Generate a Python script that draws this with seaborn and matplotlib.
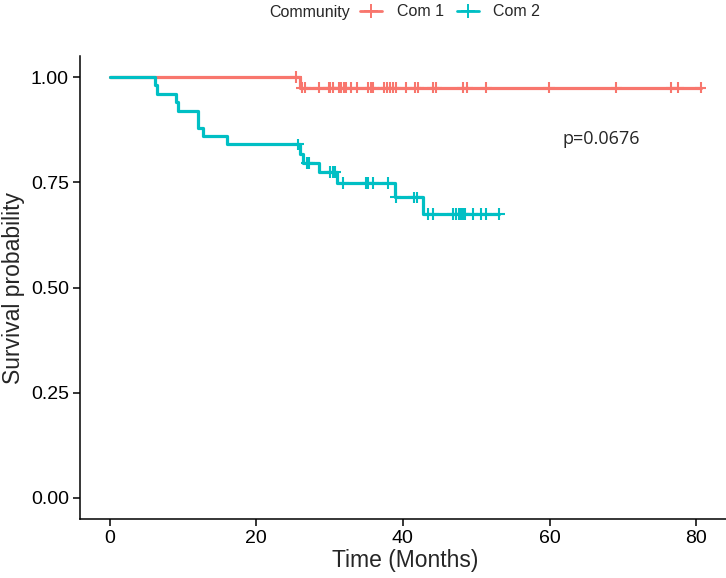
import numpy as np
import pandas as pd
import matplotlib
matplotlib.use("Agg")
import matplotlib.pyplot as plt
from matplotlib.lines import Line2D
import seaborn as sns

# step curves (event times and survival after each step)
com1_times = [0, 26.0]
com1_surv = [1.0, 0.975]
com1_censor = [25.4, 26.2, 26.7, 28.5, 29.9, 30.1, 30.4, 31.3, 31.6, 31.9, 32.3,
               32.9, 33.7, 35.3, 35.6, 35.9, 37.4, 37.8, 38.3, 38.7, 39.0, 40.4,
               41.7, 42.1, 44.1, 44.5, 48.2, 48.7, 51.3, 59.9, 69.1, 76.6, 77.5, 80.6]

com2_times = [0, 6.2, 6.5, 9.0, 9.3, 12.1, 12.8, 16.0, 25.9, 26.4, 28.5, 31.0, 38.9, 42.8]
com2_surv = [1.0, 0.98, 0.96, 0.94, 0.92, 0.88, 0.86, 0.84, 0.817, 0.796, 0.775,
             0.748, 0.714, 0.675]
com2_censor = [25.7, 26.9, 27.2, 30.1, 30.4, 30.7, 31.8, 35.0, 35.2, 35.9, 37.9,
               39.0, 41.5, 41.9, 43.4, 44.1, 46.8, 47.3, 47.6, 47.9, 48.2, 48.4,
               49.5, 50.7, 51.3, 53.1]

groups = ["Com 1", "Com 2"]
colors = ["#F8766D", "#00BFC4"]
p_label = "p=0.0676"


def build(name, times, surv, cens):
    end = max(cens)
    t = list(times) + [end]
    s = list(surv) + [surv[-1]]
    steps = pd.DataFrame({"time": t, "surv": s, "group": name})
    idx = np.searchsorted(times, cens, side="right") - 1
    marks = pd.DataFrame({"time": cens, "surv": np.array(surv)[idx], "group": name})
    return steps, marks


s1, m1 = build("Com 1", com1_times, com1_surv, com1_censor)
s2, m2 = build("Com 2", com2_times, com2_surv, com2_censor)
steps = pd.concat([s1, s2])
marks = pd.concat([m1, m2])

sns.set_theme(style="ticks")
plt.rcParams["font.family"] = ["Liberation Sans", "DejaVu Sans"]

fig = plt.figure(figsize=(7.26, 5.78), dpi=100)
ax = fig.add_axes([80 / 726, 59 / 578, 650 / 726, 463 / 578])
pal = dict(zip(groups, colors))

sns.lineplot(data=steps, x="time", y="surv", hue="group", palette=pal,
             drawstyle="steps-post", estimator=None, sort=False,
             linewidth=2.3, legend=False, ax=ax)
sns.scatterplot(data=marks, x="time", y="surv", hue="group", palette=pal,
                marker="+", s=70, linewidth=1.5, legend=False, ax=ax, zorder=3)

ax.set_xlim(-4.03, 84.6)
ax.set_ylim(-0.05, 1.05)
ax.set_xticks([0, 20, 40, 60, 80])
ax.set_yticks([0, 0.25, 0.5, 0.75, 1.0])
ax.set_yticklabels(["0.00", "0.25", "0.50", "0.75", "1.00"])
ax.tick_params(axis="both", labelsize=14, colors="black", length=5, width=1.1, pad=3)
for sp in ["left", "bottom"]:
    ax.spines[sp].set_linewidth(1.1)
    ax.spines[sp].set_color("black")
sns.despine(ax=ax)
ax.set_xlabel("Time (Months)", fontsize=16.5, labelpad=1)
ax.set_ylabel("Survival probability", fontsize=16.5, labelpad=4)

ax.text(61.8, 0.852, p_label, ha="left", va="center", fontsize=13,
        family=["Open Sans", "DejaVu Sans"])

handles = [Line2D([], [], color=c, lw=2, marker="+", markersize=10, markeredgewidth=1.4)
           for c in colors]
fig.legend(handles=handles, labels=groups, ncol=2, loc="center left",
           bbox_to_anchor=(360 / 726, 1 - 12 / 578), frameon=False, fontsize=11.5,
           handlelength=1.4, handletextpad=0.9, columnspacing=0.8, borderpad=0,
           borderaxespad=0)
fig.text(350 / 726, 1 - 12 / 578, "Community", ha="right", va="center", fontsize=11.5)

fig.savefig("out.png", dpi=100)
